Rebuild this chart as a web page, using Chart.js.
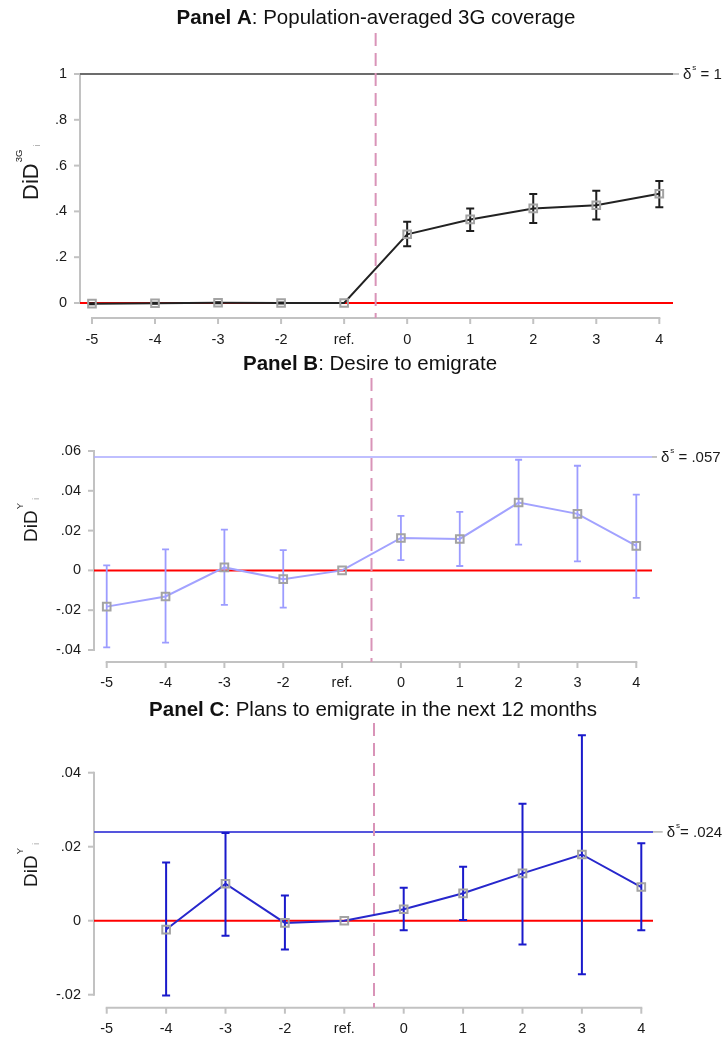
<!DOCTYPE html>
<html><head><meta charset="utf-8">
<script src="https://cdn.jsdelivr.net/npm/chart.js@4.4.1/dist/chart.umd.min.js"></script>
<style>
html,body{margin:0;padding:0;background:#fff;}
#wrap{position:relative;width:726px;height:1039px;overflow:hidden;}
canvas{position:absolute;left:0;}
</style></head><body>
<div id="wrap">
<canvas id="ca" width="726" height="352" style="top:0px"></canvas>
<canvas id="cb" width="726" height="345" style="top:352px"></canvas>
<canvas id="cc" width="726" height="342" style="top:697px"></canvas>
</div>
<script>
// ---------- DATA ----------
const periods = [-5, -4, -3, -2, -1, 0, 1, 2, 3, 4];
const periodLabels = ['-5', '-4', '-3', '-2', 'ref.', '0', '1', '2', '3', '4'];

// Panel A: population-averaged 3G coverage
const coverageEst = [-0.003, -0.001, 0.001, 0.000, 0, 0.300, 0.365, 0.413, 0.427, 0.477];
const coverageLo  = [-0.005, -0.003, -0.001, -0.002, null, 0.248, 0.314, 0.349, 0.365, 0.418];
const coverageHi  = [-0.001, 0.001, 0.003, 0.002, null, 0.355, 0.413, 0.476, 0.490, 0.533];
const coverageTicks = [0, 0.2, 0.4, 0.6, 0.8, 1];
const coverageTickLabels = ['0', '.2', '.4', '.6', '.8', '1'];
const coverageBench = 1;

// Panel B: desire to emigrate
const desireEst = [-0.0182, -0.0131, 0.0015, -0.0044, 0, 0.0163, 0.0158, 0.0341, 0.0284, 0.0123];
const desireLo  = [-0.0387, -0.0363, -0.0173, -0.0187, null, 0.0052, 0.0022, 0.0130, 0.0045, -0.0138];
const desireHi  = [0.0025, 0.0106, 0.0205, 0.0102, null, 0.0274, 0.0294, 0.0556, 0.0526, 0.0381];
const desireTicks = [-0.04, -0.02, 0, 0.02, 0.04, 0.06];
const desireTickLabels = ['-.04', '-.02', '0', '.02', '.04', '.06'];
const desireBench = 0.057;

// Panel C: plans to emigrate in the next 12 months
const plansEst = [null, -0.0024, 0.0100, -0.0006, 0, 0.0031, 0.0074, 0.0128, 0.0179, 0.0091];
const plansLo  = [null, -0.0202, -0.0041, -0.0078, null, -0.0026, 0.0002, -0.0064, -0.0145, -0.0026];
const plansHi  = [null, 0.0157, 0.0237, 0.0068, null, 0.0089, 0.0146, 0.0316, 0.0501, 0.0209];
const plansTicks = [-0.02, 0, 0.02, 0.04];
const plansTickLabels = ['-.02', '0', '.02', '.04'];
const plansBench = 0.024;

// ---------- DRAWING ----------
const FONT = '"Liberation Sans", Arial, sans-serif';
const AXIS_COL = '#c2c2c2';
const TEXT_COL = '#1a1a1a';

function makePanel(id, p) {
  const decor = {
    id: 'decor',
    beforeDatasetsDraw(chart) {
      const {ctx, chartArea: a, scales: {x, y}} = chart;
      ctx.save();
      // axes
      ctx.strokeStyle = AXIS_COL; ctx.lineWidth = 2; ctx.lineCap = 'butt';
      const yTop = y.getPixelForValue(p.yTicks[p.yTicks.length - 1]);
      const yBot = y.getPixelForValue(p.yTicks[0]);
      ctx.beginPath(); ctx.moveTo(a.left, yTop - 1); ctx.lineTo(a.left, yBot + 1); ctx.stroke();
      p.yTicks.forEach(v => { const py = y.getPixelForValue(v); ctx.beginPath(); ctx.moveTo(a.left - 6, py); ctx.lineTo(a.left, py); ctx.stroke(); });
      const axY = a.bottom + p.xAxisGap;
      const x0 = x.getPixelForValue(periods[0]), x1 = x.getPixelForValue(periods[periods.length - 1]);
      ctx.beginPath(); ctx.moveTo(x0 - 1, axY); ctx.lineTo(x1 + 1, axY); ctx.stroke();
      periods.forEach(v => { const px = x.getPixelForValue(v); ctx.beginPath(); ctx.moveTo(px, axY); ctx.lineTo(px, axY + 6); ctx.stroke(); });
      // zero line
      const y0 = y.getPixelForValue(0);
      ctx.strokeStyle = '#ff0000'; ctx.lineWidth = 2;
      ctx.beginPath(); ctx.moveTo(a.left, y0); ctx.lineTo(a.right, y0); ctx.stroke();
      // benchmark line
      const yb = y.getPixelForValue(p.bench);
      ctx.strokeStyle = p.benchColor; ctx.lineWidth = p.benchWidth;
      ctx.beginPath(); ctx.moveTo(a.left, yb); ctx.lineTo(a.right, yb); ctx.stroke();
      ctx.strokeStyle = '#b0b0b0'; ctx.lineWidth = 1.5;
      ctx.beginPath(); ctx.moveTo(a.right, yb); ctx.lineTo(a.right + p.benchLabelGap - 4, yb); ctx.stroke();
      // benchmark label
      ctx.fillStyle = TEXT_COL; ctx.textBaseline = 'middle'; ctx.textAlign = 'left';
      let tx = a.right + p.benchLabelGap;
      ctx.font = `15px ${FONT}`; ctx.fillText('δ', tx, yb + 1); tx += ctx.measureText('δ').width + 1;
      ctx.font = `8px ${FONT}`; ctx.fillText('s', tx, yb - 6); tx += ctx.measureText('s').width;
      ctx.font = `15px ${FONT}`; ctx.fillText(p.benchText, tx, yb + 1);
      // dashed vertical at event time
      const xd = x.getPixelForValue(-0.5);
      ctx.strokeStyle = '#d994b8'; ctx.lineWidth = 2; ctx.setLineDash([13, 7]);
      ctx.beginPath(); ctx.moveTo(xd, p.dashTop); ctx.lineTo(xd, axY); ctx.stroke();
      ctx.setLineDash([]);
      // error bars
      ctx.strokeStyle = p.ciColor; ctx.lineWidth = p.ciWidth;
      periods.forEach((v, i) => {
        if (p.lo[i] == null || p.hi[i] == null) return;
        const px = x.getPixelForValue(v), pl = y.getPixelForValue(p.lo[i]), ph = y.getPixelForValue(p.hi[i]);
        ctx.beginPath();
        ctx.moveTo(px, pl); ctx.lineTo(px, ph);
        ctx.moveTo(px - p.cap, pl); ctx.lineTo(px + p.cap, pl);
        ctx.moveTo(px - p.cap, ph); ctx.lineTo(px + p.cap, ph);
        ctx.stroke();
      });
      ctx.restore();
    },
    afterDraw(chart) {
      const {ctx} = chart;
      ctx.save();
      // title
      ctx.textBaseline = 'middle'; ctx.fillStyle = '#111';
      ctx.font = `bold ${p.titleSize}px ${FONT}`; const wb = ctx.measureText(p.titleBold).width;
      ctx.font = `${p.titleSize}px ${FONT}`; const wn = ctx.measureText(p.titleRest).width;
      const sx = p.titleX - (wb + wn) / 2;
      ctx.textAlign = 'left';
      ctx.font = `bold ${p.titleSize}px ${FONT}`; ctx.fillText(p.titleBold, sx, p.titleY);
      ctx.font = `${p.titleSize}px ${FONT}`; ctx.fillText(p.titleRest, sx + wb, p.titleY);
      // y label
      ctx.translate(p.ylabX, p.ylabBottom); ctx.rotate(-Math.PI / 2);
      ctx.textBaseline = 'alphabetic'; ctx.fillStyle = TEXT_COL;
      ctx.font = `${p.ylabSize}px ${FONT}`; ctx.fillText('DiD', 0, 0);
      const w = ctx.measureText('DiD').width;
      ctx.font = `${p.supSize}px ${FONT}`; ctx.fillText(p.sup, w + 1, -p.ylabSize * 0.72);
      const ws = ctx.measureText(p.sup).width;
      ctx.fillStyle = '#a0a0a0'; ctx.font = `${p.supSize}px ${FONT}`; ctx.fillText('i', w + ws + 4, 2);
      ctx.restore();
    }
  };

  return new Chart(document.getElementById(id), {
    type: 'line',
    data: {
      datasets: [{
        data: periods.map((v, i) => ({x: v, y: p.est[i]})),
        borderColor: p.lineColor, borderWidth: 2, tension: 0, spanGaps: false, clip: false,
        pointStyle: 'rect', pointRadius: 5.4, pointBorderWidth: 2,
        pointBorderColor: '#a3a3a3', pointBackgroundColor: 'rgba(0,0,0,0)'
      }]
    },
    options: {
      responsive: false, animation: false, devicePixelRatio: 1,
      layout: {padding: {left: 0, right: p.padRight, top: p.padTop, bottom: 0}},
      plugins: {legend: {display: false}, tooltip: {enabled: false}, title: {display: false}},
      scales: {
        x: {
          type: 'linear', min: p.xMin, max: p.xMax,
          afterBuildTicks: s => { s.ticks = periods.map(v => ({value: v})); },
          afterFit: s => { s.height = p.xHeight; },
          grid: {display: false, drawTicks: false}, border: {display: false},
          ticks: {autoSkip: false, maxRotation: 0, minRotation: 0, padding: p.xPad, color: TEXT_COL,
                  font: {family: FONT, size: 14.5}, callback: (v, i) => periodLabels[i]}
        },
        y: {
          type: 'linear', min: p.yTicks[0], max: p.yTicks[p.yTicks.length - 1],
          afterBuildTicks: s => { s.ticks = p.yTicks.map(v => ({value: v})); },
          afterFit: s => { s.width = p.yWidth; },
          grid: {display: false, drawTicks: false}, border: {display: false},
          ticks: {autoSkip: false, padding: 13, color: TEXT_COL,
                  font: {family: FONT, size: 14.5}, callback: (v, i) => p.yTickLabels[i]}
        }
      }
    },
    plugins: [decor]
  });
}

makePanel('ca', {
  est: coverageEst, lo: coverageLo, hi: coverageHi,
  yTicks: coverageTicks, yTickLabels: coverageTickLabels, bench: coverageBench, benchText: ' = 1',
  benchColor: '#6c6c6c', benchWidth: 2, benchLabelGap: 10,
  lineColor: '#222222', ciColor: '#1e1e1e', ciWidth: 2, cap: 4,
  xMin: -5.19, xMax: 4.217, padRight: 53, padTop: 74, yWidth: 80, xHeight: 49, xPad: 28, xAxisGap: 15,
  dashTop: 33, titleBold: 'Panel A', titleRest: ': Population-averaged 3G coverage', titleSize: 20.5, titleX: 376, titleY: 18,
  ylabX: 38, ylabBottom: 200, ylabSize: 22, sup: '3G', supSize: 9.5
});
makePanel('cb', {
  est: desireEst, lo: desireLo, hi: desireHi,
  yTicks: desireTicks, yTickLabels: desireTickLabels, bench: desireBench, benchText: ' = .057',
  benchColor: '#aaaaff', benchWidth: 1.6, benchLabelGap: 9,
  lineColor: '#a2a2ff', ciColor: '#9c9cff', ciWidth: 1.8, cap: 3.5,
  xMin: -5.216, xMax: 4.267, padRight: 74, padTop: 99, yWidth: 94, xHeight: 47, xPad: 24, xAxisGap: 12,
  dashTop: 26, titleBold: 'Panel B', titleRest: ': Desire to emigrate', titleSize: 20.5, titleX: 370, titleY: 12,
  ylabX: 37, ylabBottom: 190, ylabSize: 19, sup: 'Y', supSize: 9.5
});
makePanel('cc', {
  est: plansEst, lo: plansLo, hi: plansHi,
  yTicks: plansTicks, yTickLabels: plansTickLabels, bench: plansBench, benchText: '= .024',
  benchColor: '#5555dd', benchWidth: 2, benchLabelGap: 13.7,
  lineColor: '#2727cc', ciColor: '#1a1acb', ciWidth: 2, cap: 4,
  xMin: -5.214, xMax: 4.197, padRight: 73, padTop: 75.7, yWidth: 94, xHeight: 44.3, xPad: 26, xAxisGap: 13,
  dashTop: 26, titleBold: 'Panel C', titleRest: ': Plans to emigrate in the next 12 months', titleSize: 20.5, titleX: 373, titleY: 13,
  ylabX: 37, ylabBottom: 190, ylabSize: 19, sup: 'Y', supSize: 9.5
});
</script>
</body></html>
